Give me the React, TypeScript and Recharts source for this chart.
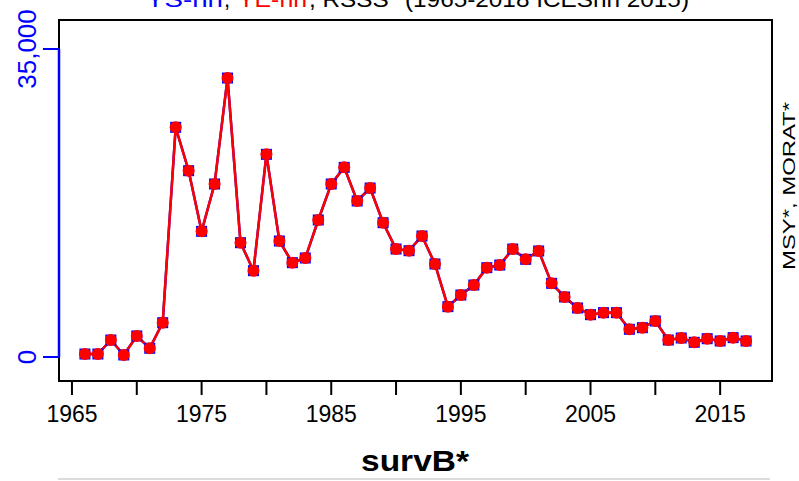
import {
  LineChart,
  Line,
  XAxis,
  YAxis,
  ReferenceArea,
  ReferenceLine,
} from "recharts";

const years = [
  1966, 1967, 1968, 1969, 1970, 1971, 1972, 1973, 1974, 1975, 1976, 1977, 1978,
  1979, 1980, 1981, 1982, 1983, 1984, 1985, 1986, 1987, 1988, 1989, 1990, 1991,
  1992, 1993, 1994, 1995, 1996, 1997, 1998, 1999, 2000, 2001, 2002, 2003, 2004,
  2005, 2006, 2007, 2008, 2009, 2010, 2011, 2012, 2013, 2014, 2015, 2016, 2017,
];

// blue squares
const vsValues = [
  340, 340, 1930, 230, 2390, 990, 3900, 26100, 21170, 14280, 19660, 31700,
  12990, 9810, 23030, 13180, 10720, 11250, 15570, 19660, 21550, 17730, 19200,
  15260, 12270, 12080, 13750, 10570, 5720, 7045, 8180, 10150, 10450, 12270,
  11100, 12050, 8370, 6820, 5570, 4810, 5040, 5040, 3150, 3330, 4090, 1930,
  2160, 1670, 2080, 1820, 2200, 1820,
];

// red circles
const yeValues = [
  340, 340, 1930, 230, 2390, 990, 3900, 26100, 21170, 14280, 19660, 31700,
  12990, 9810, 23030, 13180, 10720, 11250, 15570, 19660, 21550, 17730, 19200,
  15260, 12270, 12080, 13750, 10570, 5720, 7045, 8180, 10150, 10450, 12270,
  11100, 12050, 8370, 6820, 5570, 4810, 5040, 5040, 3150, 3330, 4090, 1930,
  2160, 1670, 2080, 1820, 2200, 1820,
];

const xTicks = [1965, 1970, 1975, 1980, 1985, 1990, 1995, 2000, 2005, 2010, 2015];
const xLabels = [1965, 1975, 1985, 1995, 2005, 2015];
const yTicks = [0, 35000];

const data = years.map((year, i) => ({
  year,
  vs: vsValues[i],
  ye: yeValues[i],
}));

const X_MIN = 1964.0;
const X_MAX = 2019.0;
const Y_MIN = -2727;
const Y_MAX = 38295;

const FONT = "'Liberation Sans', Arial, sans-serif";

const Square = (props: any) => {
  const { cx, cy, index } = props;
  if (cx == null || cy == null) return null;
  return <rect key={"s" + index} x={cx - 5.5} y={cy - 5.5} width={11} height={11} fill="#0000ff" />;
};

const Dot = (props: any) => {
  const { cx, cy, index } = props;
  if (cx == null || cy == null) return null;
  return <circle key={"c" + index} cx={cx} cy={cy} r={6} fill="#ff0000" />;
};

const XTick = (props: any) => {
  const { x, y, payload } = props;
  if (!xLabels.includes(payload.value)) return null;
  return (
    <text x={x} y={y + 25} textAnchor="middle" fontSize={23} fontFamily={FONT} fill="#000">
      {payload.value}
    </text>
  );
};

const YTick = (props: any) => {
  const { y, payload } = props;
  const label = payload.value.toLocaleString("en-US");
  return (
    <text
      x={36}
      y={y}
      transform={`rotate(-90 36 ${y})`}
      textAnchor="middle"
      fontSize={26}
      fontFamily={FONT}
      fill="#0000ff"
    >
      {label}
    </text>
  );
};

export default function App() {
  return (
    <div style={{ position: "absolute", left: 0, top: 0, width: 799, height: 481, background: "#fff" }}>
      <svg width={799} height={481} style={{ position: "absolute", left: 0, top: 0 }}>
        <text x={146} y={7} fontSize={22} fontFamily={FONT} fill="#0000ff" textLength={77} lengthAdjust="spacingAndGlyphs">
          YS-nn
        </text>
        <text x={224} y={7} fontSize={22} fontFamily={FONT} fill="#000">
          ,
        </text>
        <text x={238} y={7} fontSize={22} fontFamily={FONT} fill="#ff0000" textLength={69} lengthAdjust="spacingAndGlyphs">
          YE-nn
        </text>
        <text x={309} y={7} fontSize={22} fontFamily={FONT} fill="#000" textLength={380} lengthAdjust="spacingAndGlyphs">
          , RSSS* (1965-2018 ICESnn 2015)
        </text>
        <text
          x={415}
          y={471}
          textAnchor="middle"
          fontSize={30}
          fontWeight="bold"
          fontFamily={FONT}
          fill="#000"
          textLength={108}
          lengthAdjust="spacingAndGlyphs"
        >
          survB*
        </text>
        <line x1={58} y1={479} x2={770} y2={479} stroke="#d0d0d0" strokeWidth={1.5} />
        <text
          x={795}
          y={186}
          transform="rotate(-90 795 186)"
          textAnchor="middle"
          fontSize={16}
          fontFamily={FONT}
          fill="#000"
          textLength={168}
          lengthAdjust="spacingAndGlyphs"
        >
          MSY*, MORAT*
        </text>
      </svg>
      <LineChart
        width={799}
        height={481}
        data={data}
        margin={{ top: 20, right: 27, bottom: 0, left: 0 }}
        style={{ position: "absolute", left: 0, top: 0 }}
      >
        <XAxis
          dataKey="year"
          type="number"
          domain={[X_MIN, X_MAX]}
          ticks={xTicks}
          allowDataOverflow
          interval={0}
          tickSize={14}
          tickLine={{ stroke: "#000", strokeWidth: 2 }}
          axisLine={false}
          tick={<XTick />}
          height={100}
        />
        <YAxis
          type="number"
          domain={[Y_MIN, Y_MAX]}
          ticks={yTicks}
          allowDataOverflow
          interval={0}
          tickSize={16}
          tickLine={{ stroke: "#0000ff", strokeWidth: 2 }}
          axisLine={false}
          tick={<YTick />}
          width={59}
        />
        <ReferenceArea
          x1={X_MIN}
          x2={X_MAX}
          y1={Y_MIN}
          y2={Y_MAX}
          fill="none"
          fillOpacity={0}
          stroke="#000"
          strokeWidth={2}
          ifOverflow="visible"
        />
        <ReferenceLine
          segment={[
            { x: X_MIN, y: 0 },
            { x: X_MIN, y: 35000 },
          ]}
          stroke="#0000ff"
          strokeWidth={2.5}
          ifOverflow="visible"
        />
        <Line
          dataKey="vs"
          stroke="#0000ff"
          strokeWidth={2.5}
          dot={<Square />}
          activeDot={false}
          isAnimationActive={false}
        />
        <Line
          dataKey="ye"
          stroke="#ff0000"
          strokeWidth={2.5}
          dot={<Dot />}
          activeDot={false}
          isAnimationActive={false}
        />
      </LineChart>
    </div>
  );
}
